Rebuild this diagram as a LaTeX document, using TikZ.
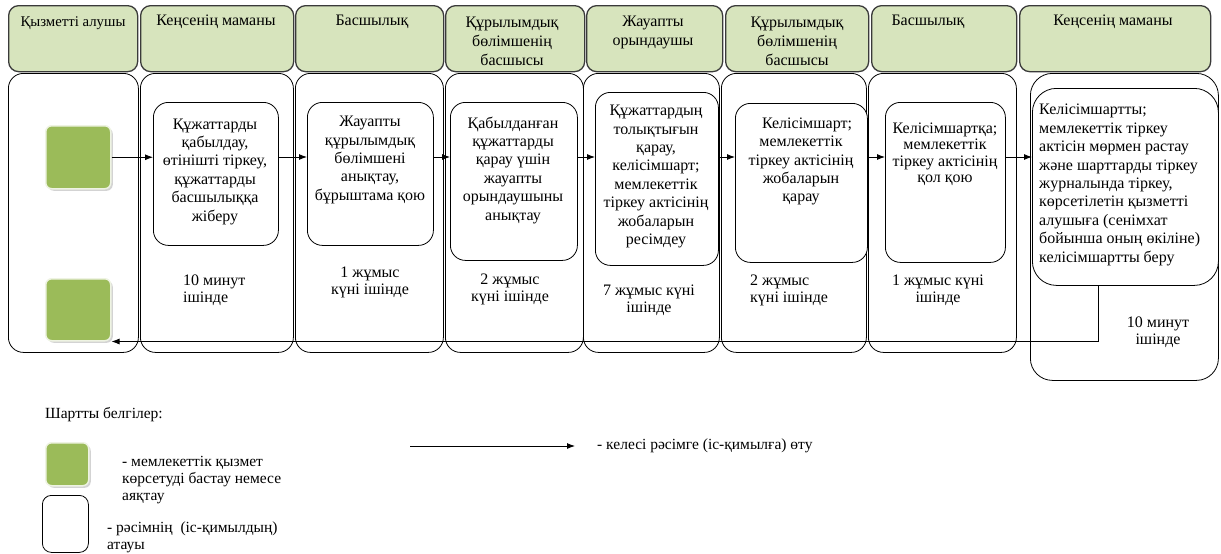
\documentclass[tikz,border=0pt]{standalone}
\usepackage{fontspec}
\setmainfont{Liberation Serif}
\usetikzlibrary{arrows.meta,shadows}
\definecolor{hdrgreen}{HTML}{D7E4BD}
\definecolor{sqgreen}{HTML}{9BBB59}
\definecolor{sqedge}{HTML}{EEF3E2}
\definecolor{hdrline}{HTML}{3A3A3A}
\begin{document}
\begin{tikzpicture}[x=1pt,y=-1pt,
 hdr/.style={draw=hdrline, line width=1.3pt, fill=hdrgreen, rounded corners=10pt, anchor=north west, inner sep=0pt, minimum height=66pt},
 lanebox/.style={draw=black, line width=0.8pt, rounded corners=15pt, anchor=north west, inner sep=0pt},
 procbox/.style={draw=black, line width=0.8pt, rounded corners=15pt, fill=white, anchor=north west, inner sep=0pt},
 sq/.style={draw=sqedge, line width=1.5pt, fill=sqgreen, rounded corners=6pt, anchor=north west, inner sep=0pt, drop shadow={shadow xshift=2pt, shadow yshift=-2pt, opacity=0.35, fill=gray}},
 txt/.style={font=\fontsize{16}{18.4}\selectfont, align=center, inner sep=0pt},
 htxt/.style={font=\fontsize{16}{19}\selectfont, align=center, inner sep=0pt},
 ttxt/.style={font=\fontsize{16}{17}\selectfont, inner sep=0pt},
 ltxt/.style={font=\fontsize{15.5}{17}\selectfont, align=left, inner sep=0pt},
 arr/.style={-{Latex[length=8pt,width=6pt]}, line width=0.9pt}
]
\useasboundingbox (0,0) rectangle (1221,554);
% headers
\node[hdr, minimum width=129pt] (h1) at (8,5) {};
\node[hdr, minimum width=153pt] (h2) at (140,5) {};
\node[hdr, minimum width=148pt] (h3) at (295,5) {};
\node[hdr, minimum width=139pt] (h4) at (445,5) {};
\node[hdr, minimum width=136pt] (h5) at (586,5) {};
\node[hdr, minimum width=143pt] (h6) at (725,5) {};
\node[hdr, minimum width=145pt] (h7) at (871,5) {};
\node[hdr, minimum width=191pt] (h8) at (1019,5) {};
\node[htxt, font=\fontsize{14.8}{19}\selectfont] (ht1) at (73,23) {Қызметті алушы};
\node[htxt] (ht2) at (216,22) {Кеңсенің маманы};
\node[htxt] (ht3) at (372,22) {Басшылық};
\node[htxt] (ht4) at (512,41) {Құрылымдық\\бөлімшенің\\басшысы};
\node[htxt] (ht5) at (653,32) {Жауапты\\орындаушы};
\node[htxt] (ht6) at (797,41) {Құрылымдық\\бөлімшенің\\басшысы};
\node[htxt] (ht7) at (928,22) {Басшылық};
\node[htxt] (ht8) at (1113,22) {Кеңсенің маманы};
% lanes
\node[lanebox, minimum width=130pt, minimum height=279pt] (l1) at (8,73) {};
\node[lanebox, minimum width=153pt, minimum height=279pt] (l2) at (140,73) {};
\node[lanebox, minimum width=148pt, minimum height=279pt] (l3) at (295,73) {};
\node[lanebox, minimum width=138pt, minimum height=279pt] (l4) at (445,73) {};
\node[lanebox, minimum width=136pt, minimum height=279pt] (l5) at (583,73) {};
\node[lanebox, minimum width=145pt, minimum height=279pt] (l6) at (721,73) {};
\node[lanebox, minimum width=148pt, minimum height=279pt] (l7) at (868,73) {};
\node[lanebox, rounded corners=22pt, minimum width=188pt, minimum height=307pt] (l8) at (1030,73) {};
% start / end squares
\node[sq, minimum width=65pt, minimum height=63pt] (g1) at (45,125) {};
\node[sq, minimum width=65pt, minimum height=62pt] (g2) at (45,278) {};
% process boxes
\node[procbox, minimum width=125pt, minimum height=143pt] (p1) at (153,102) {};
\node[procbox, minimum width=126pt, minimum height=143pt] (p2) at (307,102) {};
\node[procbox, minimum width=127pt, minimum height=158pt] (p3) at (450,102) {};
\node[procbox, minimum width=123pt, minimum height=173pt] (p4) at (595,92) {};
\node[procbox, minimum width=132pt, minimum height=159pt] (p5) at (735,103) {};
\node[procbox, minimum width=120pt, minimum height=160pt] (p6) at (885,102) {};
\node[procbox, rounded corners=24pt, minimum width=186pt, minimum height=197pt] (p7) at (1032,88) {};
% process texts
\node[txt] (pt1) at (215,171.5) {Құжаттарды\\қабылдау,\\өтінішті тіркеу,\\құжаттарды\\басшылыққа\\жіберу};
\node[txt] (pt2) at (370,160) {Жауапты\\құрылымдық\\бөлімшені\\анықтау,\\бұрыштама қою};
\node[txt] (pt3) at (513,170) {Қабылданған\\құжаттарды\\қарау үшін\\жауапты\\орындаушыны\\анықтау};
\node[txt] (pt4) at (656,176.5) {Құжаттардың\\толықтығын\\қарау,\\келісімшарт;\\мемлекеттік\\тіркеу актісінің\\жобаларын\\ресімдеу};
\node[txt] (pt5) at (801,161.5) {\hspace*{12pt}Келісімшарт;\\мемлекеттік\\тіркеу актісінің\\жобаларын\\қарау};
\node[txt, font=\fontsize{16}{16.5}\selectfont] (pt6) at (945,154) {Келісімшартқа;\\мемлекеттік\\тіркеу актісінің\\қол қою};
\node[txt, align=left, anchor=west] (pt7) at (1039,185) {Келісімшартты;\\мемлекеттік тіркеу\\актісін мөрмен растау\\және шарттарды тіркеу\\журналында тіркеу,\\көрсетілетін қызметті\\алушыға (сенімхат\\бойынша оның өкіліне)\\келісімшартты беру};
% time labels
\node[ttxt, align=left, anchor=west] (tt2) at (183,290) {10 минут\\ішінде};
\node[ttxt, align=center] (tt3) at (370,282) {1 жұмыс\\күні ішінде};
\node[ttxt, align=center] (tt4) at (510,289) {2 жұмыс\\күні ішінде};
\node[ttxt, align=center] (tt5) at (649,300) {7 жұмыс күні\\ішінде};
\node[ttxt, align=left, anchor=west] (tt6) at (750,290) {2 жұмыс\\күні ішінде};
\node[ttxt, align=center] (tt7) at (938,290) {1 жұмыс күні\\ішінде};
\node[ttxt, align=center] (tt8) at (1158,332) {10 минут\\ішінде};
% connectors
\draw[arr] (g1.east) -- (p1.west |- g1.east);
\draw[arr] (p1.east |- 0,157) -- (p2.west |- 0,157);
\draw[arr] (p2.east |- 0,157) -- (p3.west |- 0,157);
\draw[arr] (p3.east |- 0,157) -- (p4.west |- 0,157);
\draw[arr] (p4.east |- 0,157) -- (p5.west |- 0,157);
\draw[arr] (p5.east |- 0,157) -- (p6.west |- 0,157);
\draw[arr] (p6.east |- 0,157) -- (p7.west |- 0,157);
\coordinate (ret) at (1098,340);
\draw[arr] (p7.south -| ret) |- (g2.south east);
% legend
\node[ltxt, anchor=west] (lgt) at (45,415) {Шартты белгілер:};
\node[sq, minimum width=43pt, minimum height=43pt] (lg) at (45,442) {};
\node[ltxt, anchor=west] (lgt1) at (122,480) {- мемлекеттік қызмет\\көрсетуді бастау немесе\\аяқтау};
\node[lanebox, rounded corners=9pt, minimum width=46pt, minimum height=57pt] (lw) at (42,495) {};
\node[ltxt, anchor=west] (lgt2) at (107,537.5) {- рәсімнің\ \ (іс-қимылдың)\\атауы};
\coordinate (la1) at (410,446);
\coordinate (la2) at (575,446);
\draw[arr] (la1) -- (la2);
\node[ltxt, anchor=west] (lgt3) at (597,446) {- келесі рәсімге (іс-қимылға) өту};
\end{tikzpicture}
\end{document}
